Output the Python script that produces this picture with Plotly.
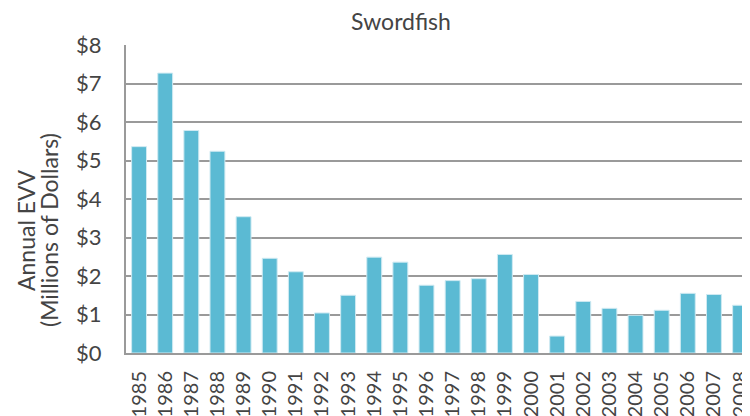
import plotly.graph_objects as go

years = [str(y) for y in range(1985, 2009)]
evv = [5.36, 7.27, 5.78, 5.24, 3.54, 2.46, 2.11, 1.04, 1.50, 2.49, 2.36, 1.76,
       1.88, 1.93, 2.56, 2.04, 0.44, 1.34, 1.16, 0.98, 1.11, 1.55, 1.52, 1.24]
y_ticks = list(range(0, 9))
y_labels = ["$" + str(v) for v in y_ticks]
title_text = "Swordfish"
ytitle_lines = ["Annual EVV", "(Millions of Dollars)"]

FONT = "Lato"
TXT = "#444444"
GRID = "#9a9a9a"

# page body has an 8px margin, so the figure is 742x408 inside a 750x416 window
W, H = 742, 408
L, T, B = 118, 37, 63
PW, PH = W - L, H - T - B

fig = go.Figure(go.Bar(
    x=years, y=evv,
    marker=dict(color="#5BBAD3", line=dict(color="#cfeaf2", width=1)),
))

fig.update_layout(
    width=W, height=H,
    margin=dict(l=L, r=0, t=T, b=B, autoexpand=False),
    paper_bgcolor="white", plot_bgcolor="white",
    bargap=0.43,
    showlegend=False,
    font=dict(family=FONT, color=TXT),
    title=dict(text=title_text, x=393 / W, xanchor="center", y=1 - 14 / H, yanchor="middle",
               font=dict(family=FONT, size=23, color=TXT)),
    annotations=[
        dict(text=ytitle_lines[0], xref="paper", yref="paper",
             x=-100 / PW, y=(345 - 222) / PH, textangle=-90,
             showarrow=False, xanchor="center", yanchor="middle",
             font=dict(family=FONT, size=23, color=TXT)),
        dict(text=ytitle_lines[1], xref="paper", yref="paper",
             x=-77 / PW, y=(345 - 222) / PH, textangle=-90,
             showarrow=False, xanchor="center", yanchor="middle",
             font=dict(family=FONT, size=23, color=TXT)),
    ],
)
fig.update_xaxes(
    type="category", range=[-0.5, 23.38], automargin=False,
    tickangle=-90, tickfont=dict(family=FONT, size=20, color=TXT),
    showline=True, linecolor=GRID, linewidth=2,
    showgrid=False, ticks="", ticklabelstandoff=8,
)
fig.update_yaxes(
    range=[0, 8], tickvals=y_ticks, ticktext=y_labels, automargin=False,
    tickfont=dict(family=FONT, size=22, color=TXT),
    showline=True, linecolor=GRID, linewidth=2,
    showgrid=True, gridcolor=GRID, gridwidth=1.5,
    zeroline=False, ticks="", ticklabelstandoff=18,
)

fig.write_html("out.html")
